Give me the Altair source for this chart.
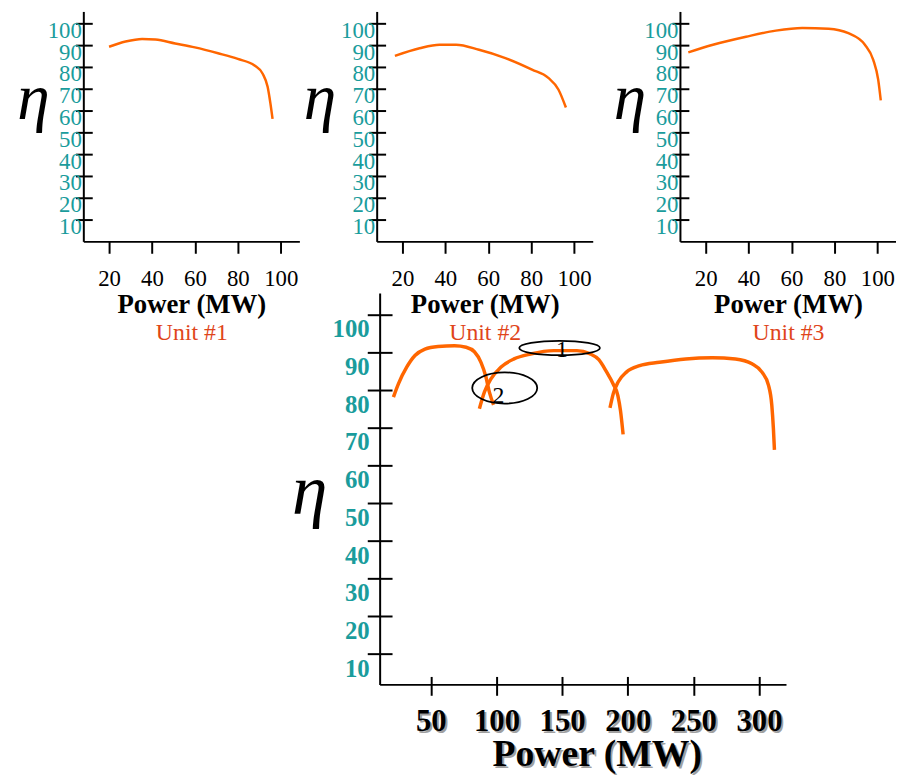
import altair as alt
import pandas as pd

SERIF = "Liberation Serif"
TEAL = "#1a9c9c"
ORANGE = "#ff6600"
UNIT_RED = "#e0451a"

# ---------------- data: top panels (power MW, efficiency %) ----------------
u1_power = [20, 27.7, 35.4, 41.6, 50.8, 60, 70.8, 80, 87.8, 91.6, 93.9, 95.2, 96.2]
u1_eff = [89.3, 91.7, 92.9, 92.6, 90.8, 89.0, 86.3, 83.7, 80.7, 76.9, 70.9, 63.3, 56.2]
u2_power = [16.5, 28, 37.3, 45, 55.7, 68, 80.4, 88, 92.7, 96.2]
u2_eff = [85.1, 88.6, 90.2, 90.2, 87.9, 84.1, 78.8, 75.0, 69.7, 61.4]
u3_power = [11.9, 23.4, 38.8, 52.7, 65, 77.3, 86.5, 94.2, 98.1, 100.4, 101.6]
u3_eff = [86.7, 90.2, 93.9, 96.7, 97.9, 97.6, 95.5, 90.2, 83.3, 74.2, 64.7]

# ---------------- data: bottom combined panel ----------------
a_power = [21.5, 25.3, 31.6, 37.9, 45.5, 55.5, 68.1, 76.9, 83.2, 88.2, 92.0, 94.6, 97.8]
a_eff = [78.1, 81.6, 86.0, 89.1, 90.8, 91.5, 91.7, 91.3, 90.1, 87.3, 83.4, 79.4, 76.0]
b_power = [87.0, 90.8, 95.8, 103.3, 113.4, 126.0, 143.7, 161.3, 171, 178, 184, 189, 192.5, 194.5, 196.5]
b_eff = [75.0, 79.4, 82.9, 86.0, 88.2, 89.5, 90.4, 90.4, 89.6, 88.0, 84.7, 81.5, 78.5, 74.5, 68.2]
c_power = [186.5, 189.0, 192.7, 199.0, 209.1, 224.2, 244.3, 264.5, 282.1, 294.7, 302.3, 307.3, 309.8, 311.0, 311.8]
c_eff = [75.2, 79.0, 82.1, 84.7, 86.4, 87.3, 88.2, 88.5, 88.2, 86.9, 84.7, 81.2, 75.9, 69.8, 64.1]

mark_labels = ["1", "2"]
mark_label_power = [149.9, 101.6]
mark_label_eff = [90.6, 78.4]
ellipse_power = [148.1, 106.3]
ellipse_eff = [91.1, 80.5]

top_x_ticks = [20, 40, 60, 80, 100]
top_y_ticks = [10, 20, 30, 40, 50, 60, 70, 80, 90, 100]
bot_x_ticks = [50, 100, 150, 200, 250, 300]
bot_y_ticks = [10, 20, 30, 40, 50, 60, 70, 80, 90, 100]


def top_panel(power, eff, unit, eta_x):
    df = pd.DataFrame({"power": power, "eff": eff})
    xs = alt.Scale(domain=[8, 108.7], nice=False, zero=False)
    ys = alt.Scale(domain=[0, 105.5], nice=False, zero=False)
    line = alt.Chart(df).mark_line(color=ORANGE, strokeWidth=2.5, interpolate="monotone").encode(
        x=alt.X("power:Q", scale=xs, axis=alt.Axis(
            orient="bottom", domain=True, domainColor="black", domainWidth=2,
            ticks=False, tickSize=0, labels=True, values=top_x_ticks,
            labelFont=SERIF, labelFontSize=23, labelColor="black", labelPadding=27,
            labelOverlap=False, labelFlush=False,
            title=unit, titleFont=SERIF, titleFontSize=24, titleFontWeight="normal",
            titleColor=UNIT_RED, titleY=99, titleBaseline="alphabetic")),
        y=alt.Y("eff:Q", scale=ys, axis=alt.Axis(
            orient="left", domain=True, domainColor="black", domainWidth=2,
            ticks=False, tickSize=0, labels=False, values=top_y_ticks,
            title="η", titleAngle=0, titleX=eta_x, titleY=108, titleAlign="center",
            titleBaseline="alphabetic", titleFont=SERIF, titleFontStyle="italic",
            titleFontSize=66, titleFontWeight="normal", titleColor="black")),
    )
    ghost = alt.Chart(df).mark_line(opacity=0).encode(
        x=alt.X("power:Q", scale=xs, axis=alt.Axis(
            orient="bottom", domain=False, ticks=True, tickSize=12, tickWidth=2,
            tickColor="black", values=top_x_ticks, labels=False,
            title="Power (MW)", titleFont=SERIF, titleFontSize=27, titleFontWeight="bold",
            titleColor="black", titleY=72, titleBaseline="alphabetic")),
        y=alt.Y("eff:Q", scale=ys, axis=alt.Axis(
            orient="left", domain=False, offset=-9, ticks=True, tickSize=17, tickWidth=2,
            tickColor="black", values=top_y_ticks, labelFont=SERIF, labelFontSize=23,
            labelColor=TEAL, labelPadding=-6, labelOffset=7, labelOverlap=False,
            labelFlush=False, title=None)),
    )
    return alt.layer(line, ghost).resolve_axis(x="independent", y="independent").properties(
        width=218, height=232)


def bottom_panel():
    df = pd.DataFrame({
        "power": a_power + b_power + c_power,
        "eff": a_eff + b_eff + c_eff,
        "curve": ["a"] * len(a_power) + ["b"] * len(b_power) + ["c"] * len(c_power),
    })
    xs = alt.Scale(domain=[11, 320.6], nice=False, zero=False)
    ys = alt.Scale(domain=[1.94, 105.7], nice=False, zero=False)
    lines = alt.Chart(df).mark_line(color=ORANGE, strokeWidth=3.5, interpolate="monotone").encode(
        x=alt.X("power:Q", scale=xs, axis=alt.Axis(
            orient="bottom", domain=True, domainColor="black", domainWidth=2,
            ticks=False, tickSize=0, values=bot_x_ticks, labelFont=SERIF,
            labelFontSize=31, labelFontWeight="bold", labelColor="#a0a0a0",
            labelPadding=24.5, labelOffset=2, labelOverlap=False, labelFlush=False,
            title="Power (MW)", titleFont=SERIF, titleFontSize=38, titleFontWeight="bold",
            titleColor="#a0a0a0", titleX=221, titleY=83.7, titleAlign="center",
            titleBaseline="alphabetic")),
        y=alt.Y("eff:Q", scale=ys, axis=alt.Axis(
            orient="left", domain=True, domainColor="black", domainWidth=2,
            ticks=False, tickSize=0, labels=False, values=bot_y_ticks,
            title="η", titleAngle=0, titleX=-71, titleY=223, titleAlign="center",
            titleBaseline="alphabetic", titleFont=SERIF, titleFontStyle="italic",
            titleFontSize=72, titleFontWeight="normal", titleColor="black")),
        detail="curve:N",
    )
    edf = pd.DataFrame({"power": ellipse_power, "eff": ellipse_eff})
    e1 = alt.Chart(edf.iloc[[0]]).mark_point(
        shape="M -1 0 A 1 0.177 0 1 0 1 0 A 1 0.177 0 1 0 -1 0",
        size=6626, filled=False, stroke="black", strokeWidth=1.8, opacity=1,
    ).encode(x=alt.X("power:Q", scale=xs, axis=None), y=alt.Y("eff:Q", scale=ys, axis=None))
    e2 = alt.Chart(edf.iloc[[1]]).mark_point(
        shape="M -1 0 A 1 0.48 0 1 0 1 0 A 1 0.48 0 1 0 -1 0",
        size=4303, filled=False, stroke="black", strokeWidth=1.8, opacity=1,
    ).encode(x=alt.X("power:Q", scale=xs, axis=None), y=alt.Y("eff:Q", scale=ys, axis=None))
    tdf = pd.DataFrame({"power": mark_label_power, "eff": mark_label_eff, "lab": mark_labels})
    texts = alt.Chart(tdf).mark_text(font=SERIF, fontSize=24, color="black", baseline="middle").encode(
        x=alt.X("power:Q", scale=xs, axis=None), y=alt.Y("eff:Q", scale=ys, axis=None), text="lab:N")
    ghost = alt.Chart(df).mark_line(opacity=0).encode(
        x=alt.X("power:Q", scale=xs, axis=alt.Axis(
            orient="bottom", domain=False, offset=-8, ticks=True, tickSize=19, tickWidth=2,
            tickColor="black", values=bot_x_ticks, labelFont=SERIF, labelFontSize=31,
            labelFontWeight="bold", labelColor="black", labelPadding=11.5,
            labelOverlap=False, labelFlush=False,
            title="Power (MW)", titleFont=SERIF, titleFontSize=38, titleFontWeight="bold",
            titleColor="black", titleX=219, titleY=89.7, titleAlign="center",
            titleBaseline="alphabetic")),
        y=alt.Y("eff:Q", scale=ys, axis=alt.Axis(
            orient="left", domain=False, offset=-12.5, ticks=True, tickSize=25, tickWidth=2,
            tickColor="black", values=bot_y_ticks, labelFont=SERIF, labelFontSize=25,
            labelFontWeight="bold", labelColor=TEAL, labelPadding=-2, labelOffset=14.5,
            labelOverlap=False, labelFlush=False, title=None)),
        detail="curve:N",
    )
    return alt.layer(lines, ghost, e1, e2, texts).resolve_axis(
        x="independent", y="independent").properties(width=410, height=395)


def spacer(w, h):
    return alt.Chart(pd.DataFrame({"v": [0]})).mark_point(opacity=0).encode(
        x=alt.X("v:Q", axis=None), y=alt.Y("v:Q", axis=None)).properties(width=w, height=h)


p1 = top_panel(u1_power, u1_eff, "Unit #1", -50.7)
p2 = top_panel(u2_power, u2_eff, "Unit #2", -57.7)
p3 = top_panel(u3_power, u3_eff, "Unit #3", -51)
p4 = bottom_panel()

top_row = alt.hconcat(p1, spacer(77.7, 232), p2, spacer(87.6, 232), p3, spacing=0, bounds="flush")
bottom_row = alt.hconcat(spacer(299, 395), p4, spacing=0, bounds="flush")

chart = alt.vconcat(top_row, bottom_row, spacing=284, bounds="flush").properties(
    padding={"left": 8, "top": 0, "right": 0, "bottom": 0}
).configure_view(stroke=None).configure_axis(grid=False)

chart.save("out.html", embed_options={"renderer": "svg", "actions": False})
